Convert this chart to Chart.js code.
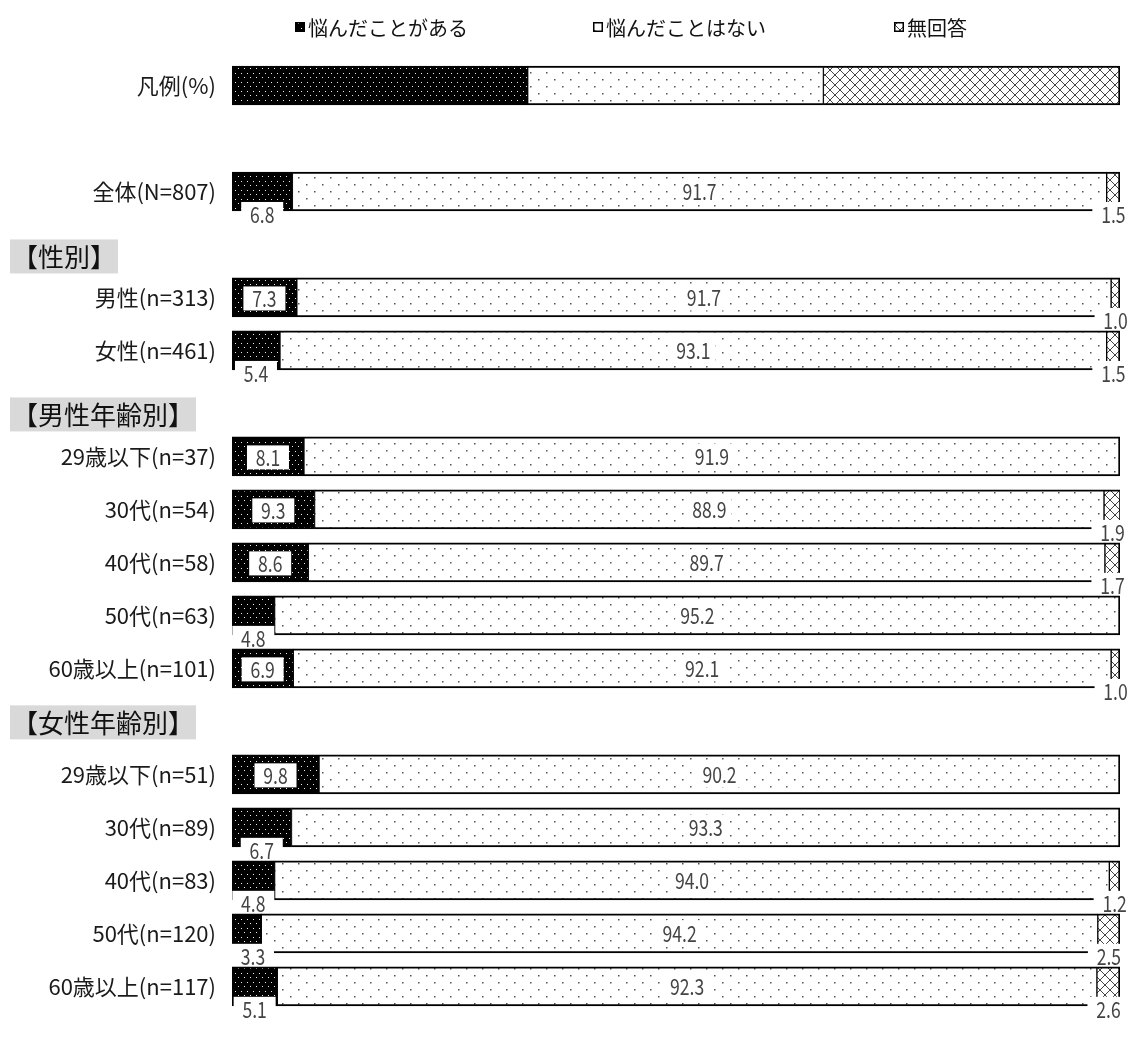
<!doctype html>
<html>
<head>
  <meta charset="utf-8">
  <title>悩んだことの有無</title>
  <style>
    html, body { margin:0; padding:0; background:#fff; }
    #wrap { width:1130px; height:1042px; }
  </style>
  <script src="https://cdn.jsdelivr.net/npm/chart.js"></script>
</head>
<body>
  <div id="wrap"><canvas id="chart" width="1130" height="1042"></canvas></div>

  <script>
    // rows of the chart; entries in 【】 are section headings, '' is a spacer row
    const categories = [
      '凡例(%)', '',
      '全体(N=807)',
      '【性別】', '男性(n=313)', '女性(n=461)',
      '【男性年齢別】', '29歳以下(n=37)', '30代(n=54)', '40代(n=58)', '50代(n=63)', '60歳以上(n=101)',
      '【女性年齢別】', '29歳以下(n=51)', '30代(n=89)', '40代(n=83)', '50代(n=120)', '60歳以上(n=117)'
    ];
    const seriesNames = ['悩んだことがある', '悩んだことはない', '無回答'];
    const worried  = [33.3, null, 6.8, null, 7.3, 5.4, null, 8.1, 9.3, 8.6, 4.8, 6.9, null, 9.8, 6.7, 4.8, 3.3, 5.1];
    const never    = [33.3, null, 91.7, null, 91.7, 93.1, null, 91.9, 88.9, 89.7, 95.2, 92.1, null, 90.2, 93.3, 94.0, 94.2, 92.3];
    const noAnswer = [33.4, null, 1.5, null, 1.0, 1.5, null, 0, 1.9, 1.7, 0, 1.0, null, 0, 0, 1.2, 2.5, 2.6];

    const LEGEND_ROW = 0;
    const INSIDE_MIN = 6.85;   // smaller "worried" values go under the bar
    const jpFont = "'Noto Sans CJK JP', sans-serif";
    const numFont = "22px 'Noto Sans CJK JP', sans-serif";

    const canvas = document.getElementById('chart');
    const ctx = canvas.getContext('2d');

    function makePattern(w, h, draw) {
      const c = document.createElement('canvas');
      c.width = w; c.height = h;
      draw(c.getContext('2d'), w, h);
      return ctx.createPattern(c, 'repeat');
    }

    const darkDots = makePattern(6, 9, g => {
      g.fillStyle = '#000'; g.fillRect(0, 0, 6, 9);
      g.fillStyle = '#eee';
      g.fillRect(1, 1, 1, 1);
      g.fillRect(4, 5, 1, 1);
    });
    const lightDots = makePattern(16, 14, g => {
      g.fillStyle = '#fff'; g.fillRect(0, 0, 16, 14);
      g.fillStyle = '#555';
      g.fillRect(2, 2, 1.5, 1.5);
      g.fillRect(10, 9, 1.5, 1.5);
    });
    const crossHatch = makePattern(10, 10, g => {
      g.fillStyle = '#fff'; g.fillRect(0, 0, 10, 10);
      g.strokeStyle = '#444'; g.lineWidth = 1;
      g.beginPath();
      g.moveTo(0, 0); g.lineTo(10, 10);
      g.moveTo(10, 0); g.lineTo(0, 10);
      g.stroke();
    });
    const fills = [darkDots, lightDots, crossHatch];

    function border(ds) {
      return c => {
        const i = c.dataIndex;
        const lastVisible = ds === 2 || (ds === 1 && !noAnswer[i]);
        return { top: 2, bottom: 2, left: ds === 0 ? 2 : 1, right: lastVisible ? 2 : 1 };
      };
    }

    // narrow numerals: squeeze the text horizontally
    function numText(g, txt, x, y) {
      g.save();
      g.translate(x, y);
      g.scale(0.8, 1);
      g.fillText(txt, 0, 0);
      g.restore();
    }

    // value labels, section headings and the legend
    const decorations = {
      id: 'decorations',
      afterDatasetsDraw(chart) {
        const g = chart.ctx;
        g.save();
        g.font = numFont;
        g.textAlign = 'center';
        g.textBaseline = 'middle';
        const series = [worried, never, noAnswer];
        series.forEach((vals, d) => {
          chart.getDatasetMeta(d).data.forEach((el, i) => {
            const v = vals[i];
            if (i === LEGEND_ROW || v == null || v === 0) return;
            const { x, y, base, height } = el.getProps(['x', 'y', 'base', 'height'], true);
            const cx = (x + base) / 2;
            const bottom = y + height / 2;
            let tx, ty;
            g.fillStyle = '#fff';
            if (d === 1) {
              tx = cx; ty = y;
              g.fillRect(tx - 22, ty - 13, 44, 26);
            } else if (d === 0 && v >= INSIDE_MIN) {
              tx = cx; ty = y + 1;
              g.fillRect(tx - 21, ty - 12, 42, 24);
            } else {
              tx = d === 0 ? Math.max(cx, base + 21) : cx;
              ty = bottom + 4;
              g.fillRect(tx - 21, bottom - 9, 42, 22);
            }
            g.fillStyle = '#444';
            numText(g, v.toFixed(1), tx, ty);
          });
        });
        g.restore();
      },
      afterDraw(chart) {
        const g = chart.ctx;
        const yScale = chart.scales.y;
        g.save();

        // section headings on grey bands
        const nudge = { 3: 12, 6: 11, 12: 1 };
        g.font = '26px ' + jpFont;
        g.textBaseline = 'middle';
        g.textAlign = 'left';
        categories.forEach((c, i) => {
          if (!c.startsWith('【')) return;
          const y = yScale.getPixelForTick(i) + (nudge[i] || 0);
          const w = g.measureText(c).width;
          g.fillStyle = '#d9d9d9';
          g.fillRect(10, y - 17, w + 4, 34);
          g.fillStyle = '#111';
          g.fillText(c, 12, y + 1);
        });

        // legend across the top
        const legendX = [295, 593, 894];
        const ly = 27;
        g.font = '20px ' + jpFont;
        seriesNames.forEach((name, k) => {
          const x = legendX[k];
          g.fillStyle = fills[k];
          g.fillRect(x, ly - 5, 10, 10);
          g.strokeStyle = '#000';
          g.lineWidth = 1.5;
          g.strokeRect(x + 0.75, ly - 4.25, 8.5, 8.5);
          g.fillStyle = '#111';
          g.fillText(name, x + 13, ly + 1);
        });
        g.restore();
      }
    };

    new Chart(canvas, {
      type: 'bar',
      data: {
        labels: categories,
        datasets: [worried, never, noAnswer].map((vals, d) => ({
          label: seriesNames[d],
          data: vals,
          backgroundColor: fills[d],
          borderColor: '#000',
          borderWidth: border(d),
          borderSkipped: false,
          barThickness: 39
        }))
      },
      options: {
        indexAxis: 'y',
        responsive: false,
        animation: false,
        layout: { padding: { top: 59, bottom: 23, left: 0, right: 10 } },
        plugins: {
          legend: { display: false },
          tooltip: { enabled: false }
        },
        scales: {
          x: { stacked: true, min: 0, max: 100, display: false },
          y: {
            stacked: true,
            grid: { display: false, drawTicks: false },
            border: { display: false },
            ticks: {
              autoSkip: false,
              padding: 16,
              color: '#1a1a1a',
              font: { family: jpFont, size: 22 },
              callback: (v, i) => categories[i].startsWith('【') ? '' : categories[i]
            },
            afterFit: s => { s.width = 232; }
          }
        }
      },
      plugins: [decorations]
    });
  </script>
</body>
</html>
